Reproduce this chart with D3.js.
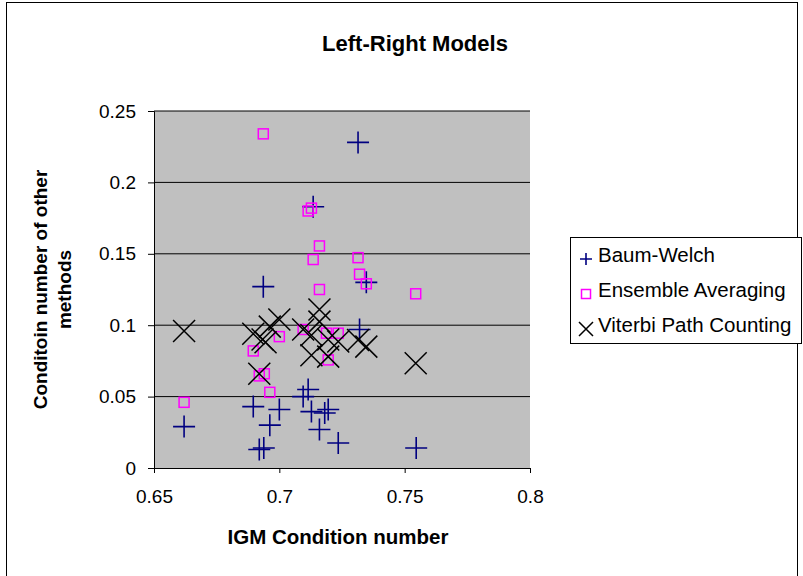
<!DOCTYPE html>
<html>
<head>
<meta charset="utf-8">
<script src="https://cdn.jsdelivr.net/npm/d3@7"></script>
<style>
  body { margin: 0; background: #fff; }
  svg text { font-family: "Liberation Sans", Arial, sans-serif; }
</style>
</head>
<body>
<div id="chart"></div>
<script>
// values (x = IGM condition number, y = other method)
var baumWelch = [
  [0.662, 0.029], [0.6896, 0.043], [0.692, 0.013], [0.6938, 0.014], [0.6936, 0.127],
  [0.6962, 0.030], [0.700, 0.041], [0.7095, 0.050], [0.7115, 0.055], [0.7135, 0.183],
  [0.7128, 0.0395], [0.7181, 0.0385], [0.7195, 0.041], [0.716, 0.027], [0.7235, 0.0175],
  [0.7314, 0.228], [0.732, 0.097], [0.7347, 0.130], [0.7546, 0.014]
];
var ensemble = [
  [0.662, 0.046], [0.6896, 0.082], [0.692, 0.0645], [0.694, 0.066], [0.6962, 0.053],
  [0.700, 0.092], [0.6936, 0.234], [0.7095, 0.097], [0.7115, 0.180], [0.7128, 0.182],
  [0.7135, 0.146], [0.716, 0.1555], [0.716, 0.125], [0.7188, 0.0944], [0.7235, 0.0944],
  [0.7195, 0.0757], [0.7314, 0.1473], [0.732, 0.1357], [0.7347, 0.129], [0.7544, 0.122]
];
var viterbi = [
  [0.662, 0.096], [0.6896, 0.094], [0.6933, 0.090], [0.6962, 0.099], [0.700, 0.104],
  [0.692, 0.066], [0.7095, 0.097], [0.7128, 0.093], [0.716, 0.111], [0.716, 0.1025],
  [0.7128, 0.079], [0.7195, 0.078], [0.7235, 0.0886], [0.7314, 0.0897], [0.7347, 0.085],
  [0.7544, 0.0734], [0.7195, 0.090], [0.6945, 0.088]
];
var xTicks = [0.65, 0.7, 0.75, 0.8];
var yTicks = [0, 0.05, 0.1, 0.15, 0.2, 0.25];
var seriesNames = ["Baum-Welch", "Ensemble Averaging", "Viterbi Path Counting"];

var W = 803, H = 576;
var pL = 154, pR = 530, pT = 111, pB = 468;

var svg = d3.select('#chart').append('svg')
    .attr('width', W).attr('height', H);

// outer chart frame
svg.append('rect')
    .attr('x', 6.5).attr('y', 2.5)
    .attr('width', 791).attr('height', 590)
    .attr('fill', '#fff').attr('stroke', '#000').attr('stroke-width', 1);

var x = d3.scaleLinear().domain([0.65, 0.8]).range([pL, pR]);
var y = d3.scaleLinear().domain([0, 0.25]).range([pB, pT]);

// plot area
svg.append('rect')
    .attr('x', pL).attr('y', pT)
    .attr('width', pR - pL).attr('height', pB - pT)
    .attr('fill', '#c0c0c0');

// gridlines
svg.append('g').selectAll('line')
    .data(yTicks.slice(1))
    .enter().append('line')
    .attr('x1', pL).attr('x2', pR)
    .attr('y1', d => y(d)).attr('y2', d => y(d))
    .attr('stroke', '#000').attr('stroke-width', 1);

// axes
var fmt = d => String(+d.toFixed(2));
var yAxis = svg.append('g')
    .attr('transform', 'translate(' + pL + ',0)')
    .call(d3.axisLeft(y).tickValues(yTicks).tickSize(6).tickPadding(12).tickFormat(fmt));
var xAxis = svg.append('g')
    .attr('transform', 'translate(0,' + pB + ')')
    .call(d3.axisBottom(x).tickValues(xTicks).tickSize(5).tickPadding(17).tickFormat(fmt));
[xAxis, yAxis].forEach(function(a) {
    a.select('.domain').attr('stroke', '#000');
    a.selectAll('.tick line').attr('stroke', '#000');
    a.selectAll('text').attr('font-size', 19).attr('fill', '#000')
        .style('font-family', '"Liberation Sans", Arial, sans-serif');
});

// markers
function plus(g, s) {
    g.append('path').attr('d', 'M' + (-s) + ',0H' + s + 'M0,' + (-s) + 'V' + s)
        .attr('stroke', '#000080').attr('stroke-width', 1.6).attr('fill', 'none');
}
function square(g, s) {
    g.append('rect').attr('x', -s).attr('y', -s).attr('width', 2 * s).attr('height', 2 * s)
        .attr('stroke', '#ff00ff').attr('stroke-width', 1.5).attr('fill', 'none');
}
function cross(g, s) {
    g.append('path').attr('d', 'M' + (-s) + ',' + (-s) + 'L' + s + ',' + s + 'M' + (-s) + ',' + s + 'L' + s + ',' + (-s))
        .attr('stroke', '#000').attr('stroke-width', 1.5).attr('fill', 'none');
}

function drawSeries(data, fn, s) {
    svg.append('g').selectAll('g')
        .data(data)
        .enter().append('g')
        .attr('transform', d => 'translate(' + x(d[0]) + ',' + y(d[1]) + ')')
        .each(function() { fn(d3.select(this), s); });
}
drawSeries(baumWelch, plus, 11);
drawSeries(ensemble, square, 5);
drawSeries(viterbi, cross, 11);

// title
svg.append('text')
    .attr('x', 415).attr('y', 51)
    .attr('text-anchor', 'middle')
    .attr('font-size', 22).attr('font-weight', 'bold')
    .text('Left-Right Models');

// axis titles
svg.append('text')
    .attr('x', 338).attr('y', 544)
    .attr('text-anchor', 'middle')
    .attr('font-size', 20.5).attr('font-weight', 'bold')
    .text('IGM Condition number');

var yt = svg.append('text')
    .attr('transform', 'translate(47,' + ((pT + pB) / 2) + ') rotate(-90)')
    .attr('text-anchor', 'middle')
    .attr('font-size', 19).attr('font-weight', 'bold');
yt.append('tspan').attr('x', 0).attr('dy', 0).text('Conditoin number of other');
yt.append('tspan').attr('x', 0).attr('dy', 24).text('methods');

// legend
var lg = svg.append('g');
lg.append('rect')
    .attr('x', 570.5).attr('y', 237.5)
    .attr('width', 231).attr('height', 106)
    .attr('fill', '#fff').attr('stroke', '#000');
var legendFns = [plus, square, cross];
var legendSizes = [6, 4.5, 7];
seriesNames.forEach(function(name, i) {
    var base = 262 + i * 35;
    var mg = lg.append('g').attr('transform', 'translate(586,' + (base - 3) + ')');
    legendFns[i](mg, legendSizes[i]);
    lg.append('text')
        .attr('x', 598).attr('y', base)
        .attr('font-size', 20.5)
        .text(name);
});
</script>
</body>
</html>
